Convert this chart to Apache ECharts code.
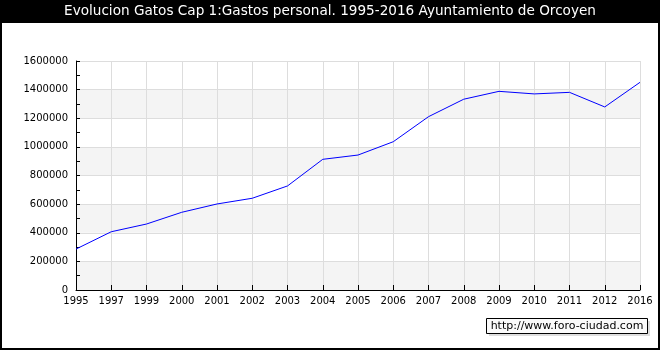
<!DOCTYPE html>
<html><head><meta charset="utf-8">
<script src="https://cdn.jsdelivr.net/npm/echarts@6/dist/echarts.min.js"></script>
<style>html,body{margin:0;padding:0;background:#fff}#c{width:660px;height:350px}</style>
</head><body><div id="c"></div>
<script>
var categories = ['1995','1997','1999','2000','2001','2002','2003','2004','2005','2006','2007','2008','2009','2010','2011','2012','2016'];
var gastos = [286000,407000,461000,543000,601000,641000,727000,913000,943000,1036000,1211000,1333000,1388000,1370000,1381000,1279000,1451000];
var titleText = 'Evolucion Gatos Cap 1:Gastos personal. 1995-2016 Ayuntamiento de Orcoyen';
var watermark = 'http://www.foro-ciudad.com';

var chart = echarts.init(document.getElementById('c'));
chart.setOption({
  animation: false,
  backgroundColor: '#fff',
  graphic: [
    {type:'rect', shape:{x:0,y:0,width:660,height:23}, style:{fill:'#000'}, z:0},
    {type:'rect', shape:{x:1,y:1,width:658,height:348}, style:{fill:'none',stroke:'#000',lineWidth:2}, z:0},
    {type:'text', left:'center', top:4, style:{text:titleText, fill:'#fff', font:'13.6px "DejaVu Sans"'}, z:10},
    {type:'rect', shape:{x:489,y:321,width:161,height:15}, style:{fill:'#ddd'}, z:5},
    {type:'rect', shape:{x:486.5,y:318.5,width:161,height:15}, style:{fill:'#fafafa',stroke:'#000',lineWidth:1}, z:6},
    {type:'text', x:567, y:326.5, style:{text:watermark, fill:'#000', font:'11px "DejaVu Sans"', align:'center', verticalAlign:'middle'}, z:7}
  ],
  grid: {left:76, right:20, top:61, bottom:60, containLabel:false},
  xAxis: {
    type:'category', data:categories, boundaryGap:false,
    axisLine:{lineStyle:{color:'#000',width:1}},
    axisTick:{inside:true, length:5, lineStyle:{color:'#000'}},
    axisLabel:{color:'#000', fontSize:10, fontFamily:'DejaVu Sans', margin:6, interval:0},
    splitLine:{show:true, lineStyle:{color:'#ddd', width:1}}
  },
  yAxis: {
    type:'value', min:0, max:1600000, interval:200000,
    axisLine:{show:true, lineStyle:{color:'#000',width:1}},
    axisTick:{show:true, inside:true, length:4, lineStyle:{color:'#000'}},
    minorTick:{show:true, splitNumber:2, length:4, lineStyle:{color:'#000'}},
    axisLabel:{color:'#000', fontSize:10, fontFamily:'DejaVu Sans', margin:8, formatter:function(v){return String(v);}},
    splitLine:{show:true, lineStyle:{color:'#ddd', width:1}},
    splitArea:{show:true, areaStyle:{color:['#f4f4f4','#ffffff']}}
  },
  series: [{
    type:'line', data:gastos, symbol:'none',
    lineStyle:{color:'#0000ff', width:1},
    itemStyle:{color:'#0000ff'}
  }]
});
</script></body></html>
